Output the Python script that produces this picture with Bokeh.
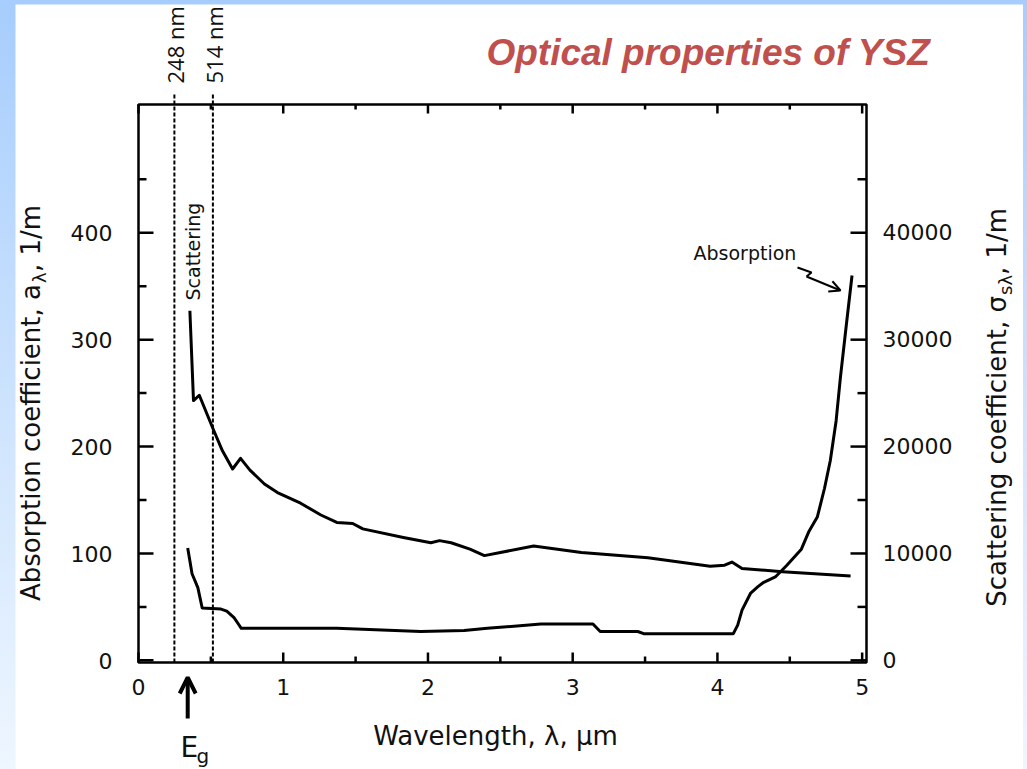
import numpy as np
from bokeh.plotting import figure
from bokeh.layouts import column
from bokeh.models import Range1d, Label, Arrow, OpenHead
from bokeh.core.properties import value
from bokeh.embed import file_html
from bokeh.resources import INLINE

# Absorption coefficient of YSZ (left axis, 1/m)
abs_wavelength_um = [0.34, 0.37, 0.41, 0.44, 0.57, 0.61, 0.66, 0.69, 0.71, 1.37, 1.95,
                     2.25, 2.41, 2.78, 2.96, 3.14, 3.19, 3.45, 3.49, 4.11, 4.14, 4.17,
                     4.23, 4.28, 4.32, 4.40, 4.48, 4.58, 4.63, 4.69, 4.74, 4.78, 4.82,
                     4.85, 4.89, 4.93]
abs_coeff = [105, 81, 68, 49, 48, 46, 40, 34, 30, 30, 27,
             28, 30, 34, 34, 34, 27, 27, 25, 25, 33, 47,
             63, 69, 73, 78, 89, 104, 120, 134, 161, 187, 224,
             265, 313, 360]

# Scattering coefficient of YSZ (right axis, 1/m)
sca_wavelength_um = [0.355, 0.38, 0.42, 0.52, 0.58, 0.65, 0.705, 0.77, 0.87, 0.96, 1.12,
                     1.26, 1.37, 1.48, 1.55, 1.83, 2.02, 2.08, 2.16, 2.29, 2.39, 2.73,
                     3.06, 3.52, 3.95, 4.05, 4.10, 4.17, 4.45, 4.92]
sca_coeff = [32700, 24300, 24800, 21500, 19600, 17900, 18900, 17800, 16500, 15700, 14700,
             13600, 12900, 12800, 12300, 11500, 11000, 11200, 11000, 10400, 9800, 10700,
             10100, 9600, 8800, 8900, 9200, 8600, 8300, 7900]

laser_lines_nm = [248, 514]
band_gap_um = 0.34

x_ticks = [0, 1, 2, 3, 4, 5]
x_minor_ticks = [0.5, 1.5, 2.5, 3.5, 4.5]
abs_ticks = [0, 100, 200, 300, 400]
abs_minor_ticks = [50, 150, 250, 350, 450]
sca_ticks = [0, 10000, 20000, 30000, 40000]
sca_minor_ticks = [5000, 15000, 25000, 35000, 45000]

# ---- page geometry (pixels from the top-left of the window) ----
PAGE_LEFT, PAGE_TOP = 15, 4
FIG_W, FIG_H = 1008, 765
FRAME_L, FRAME_R, FRAME_T, FRAME_B = 138, 866, 104, 662
X0, X1 = 0.0, 5.03          # wavelength span of the axes box
Y0, Y1 = -2.0, 520.0        # absorption span of the axes box
SCALE_RIGHT = 100.0         # scattering / absorption axis ratio

PX_X = (FRAME_R - FRAME_L) / (X1 - X0)
PX_Y = (FRAME_B - FRAME_T) / (Y1 - Y0)


def dx(px):
    return X0 + (px - FRAME_L) / PX_X


def dy(py):
    return Y0 + (FRAME_B - py) / PX_Y


def lift(size):
    # distance between the anchor and the drawn baseline of a text line
    return 0.38 * size


p = figure(width=FIG_W, height=FIG_H, title=None,
           x_range=Range1d(dx(PAGE_LEFT), dx(PAGE_LEFT + FIG_W)),
           y_range=Range1d(dy(PAGE_TOP + FIG_H), dy(PAGE_TOP)),
           output_backend="svg", toolbar_location=None,
           x_axis_location=None, y_axis_location=None, min_border=0)
p.extra_y_ranges = {"sca": Range1d(dy(PAGE_TOP + FIG_H) * SCALE_RIGHT, dy(PAGE_TOP) * SCALE_RIGHT)}
p.xgrid.visible = False
p.ygrid.visible = False
p.outline_line_color = None
p.background_fill_color = "white"
p.border_fill_color = "white"
p.margin = (PAGE_TOP, 4, 0, PAGE_LEFT)

TICK_FONT = "DejaVu Sans"
LABEL_FONT = "DejaVu Sans"
INK = "#111111"
AX_W = 2.5
TICK_SIZE = 22

# ---- axes box ----
p.quad(left=X0, right=X1, bottom=Y0, top=Y1, fill_color=None,
       line_color="black", line_width=AX_W)


# x ticks (bottom and top, pointing inward)
def xtick(vals, length_bottom, length_top):
    n = len(vals)
    p.segment(x0=vals, x1=vals, y0=[Y0] * n, y1=[Y0 + length_bottom / PX_Y] * n,
              line_color="black", line_width=AX_W)
    p.segment(x0=vals, x1=vals, y0=[Y1] * n, y1=[Y1 - length_top / PX_Y] * n,
              line_color="black", line_width=AX_W)


xtick(x_ticks, 10, 9)
xtick(x_minor_ticks, 6, 5)

# left ticks (absorption)
for vals, ln in ((abs_ticks, 15), (abs_minor_ticks, 8)):
    n = len(vals)
    p.segment(x0=[X0] * n, x1=[X0 + ln / PX_X] * n, y0=vals, y1=vals,
              line_color="black", line_width=AX_W)

# right ticks (scattering)
for vals, ln in ((sca_ticks, 16), (sca_minor_ticks, 9)):
    n = len(vals)
    p.segment(x0=[X1] * n, x1=[X1 - ln / PX_X] * n, y0=vals, y1=vals,
              y_range_name="sca", line_color="black", line_width=AX_W)

# tick labels
tick_drop = 9 - lift(TICK_SIZE)
p.text(x=x_ticks, y=[dy(695 - lift(TICK_SIZE))] * len(x_ticks), text=[str(v) for v in x_ticks],
       text_align="center", text_baseline="alphabetic", text_font=value(TICK_FONT),
       text_font_size=f"{TICK_SIZE}px", text_color=INK)
p.text(x=[dx(112)] * len(abs_ticks), y=[v - tick_drop / PX_Y for v in abs_ticks],
       text=[str(v) for v in abs_ticks], text_align="right", text_baseline="alphabetic",
       text_font=value(TICK_FONT), text_font_size=f"{TICK_SIZE}px", text_color=INK)
p.text(x=[dx(882)] * len(sca_ticks),
       y=[v - (tick_drop - 1) / PX_Y * SCALE_RIGHT for v in sca_ticks],
       text=[str(v) for v in sca_ticks], y_range_name="sca", text_align="left",
       text_baseline="alphabetic", text_font=value(TICK_FONT),
       text_font_size=f"{TICK_SIZE}px", text_color=INK)


def flat(px, py, text, size, align="left", font=LABEL_FONT, **kw):
    return Label(x=dx(px), y=dy(py - lift(size)), text=text, text_align=align,
                 text_baseline="alphabetic", text_font=font,
                 text_font_size=f"{size}px", text_color=kw.pop("color", INK), **kw)


def rotated(px, py, text, size, align="left", font=LABEL_FONT):
    return Label(x=dx(px - lift(size)), y=dy(py), text=text, angle=np.pi / 2,
                 text_align=align, text_baseline="alphabetic", text_font=font,
                 text_font_size=f"{size}px", text_color=INK)


# laser wavelengths, dashed, reaching a little above the box
for nm in laser_lines_nm:
    lam = nm / 1000.0
    p.segment(x0=[lam], x1=[lam], y0=[Y0], y1=[dy(93)], line_color="black",
              line_width=2, line_dash="4 2")
    lab_px = FRAME_L + lam * PX_X + 9
    p.add_layout(rotated(lab_px, 83, f"{nm} nm", 22, font="Open Sans"))

# data curves
p.line(abs_wavelength_um, abs_coeff, line_color="black", line_width=3, line_join="round")
p.line(sca_wavelength_um, sca_coeff, y_range_name="sca", line_color="black", line_width=3,
       line_join="round")

# curve captions
p.add_layout(rotated(200, 300, "Scattering", 19))
p.add_layout(flat(693, 260, "Absorption", 19))
p.line([dx(797), dx(811), dx(806)], [dy(267), dy(272), dy(276)],
       line_color="black", line_width=2)
p.add_layout(Arrow(end=OpenHead(size=11, line_width=2), x_start=dx(806), y_start=dy(276),
                   x_end=dx(840), y_end=dy(290), line_color="black", line_width=2))

# band gap marker
p.add_layout(Arrow(end=OpenHead(size=16, line_width=4), x_start=band_gap_um, y_start=dy(718),
                   x_end=band_gap_um, y_end=dy(677), line_color="black", line_width=4))
p.add_layout(flat(180, 758, "E", 28))
p.add_layout(flat(196, 763, "g", 20))

# axis titles (with subscripts)
p.add_layout(rotated(40, 283.5, "Absorption coefficient, a", 26, "right"))
p.add_layout(rotated(46, 282.5, "λ", 18))
p.add_layout(rotated(40, 271.5, ", 1/m", 26))

p.add_layout(rotated(1006, 295.5, "Scattering coefficient, σ", 26, "right"))
p.add_layout(rotated(1012, 294.5, "sλ", 18))
p.add_layout(rotated(1006, 274.5, ", 1/m", 26))

p.add_layout(flat(495, 745, "Wavelength, λ, μm", 26, "center"))

# slide title
p.add_layout(flat(930, 66, "Optical properties of YSZ", 37, "right", font="Liberation Sans",
                  text_font_style="bold italic", color="#c0504d"))

root = column(p, styles={"background": "linear-gradient(to bottom, #a6cdfd 0%, #cfe4fd 55%, #eef6ff 100%)"})

open("out.html", "w").write(file_html(root, INLINE))
